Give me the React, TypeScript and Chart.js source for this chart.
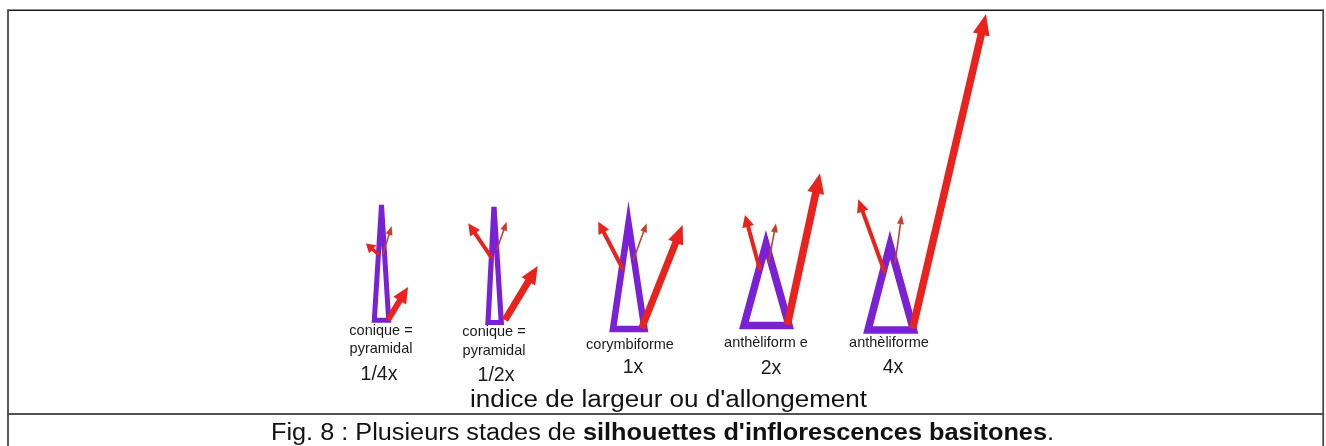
import React, { useEffect, useRef } from "react";
import { Chart, registerables } from "chart.js";

Chart.register(...registerables);

// ---- data (diagram coordinates: x = px from left, y = px from top) ----
const stages = ["1/4x", "1/2x", "1x", "2x", "4x"];
const stageNames = [
  ["conique =", "pyramidal"],
  ["conique =", "pyramidal"],
  ["corymbiforme"],
  ["anthèliform e"],
  ["anthèliforme"],
];

// purple silhouettes (triangles): apex, base-left, base-right
const apexX = [381.5, 494, 628.5, 766, 890];
const apexY = [205, 207, 223, 244, 245];
const baseLeftX = [374.3, 488, 613, 744, 868];
const baseRightX = [388.7, 501.3, 644.5, 789, 913.5];
const baseY = [320.3, 322.5, 329, 325.5, 330];

// red arrows: lateral (left), thin (upper), main (right)
const sideTailX = [379, 491.7, 623.3, 760, 885];
const sideTailY = [255, 258, 270, 270, 273];
const sideTipX = [366, 468.3, 598.3, 745, 858.3];
const sideTipY = [243.5, 223.3, 221.7, 215, 199.3];

const thinTailX = [382.7, 496.7, 633.3, 768.3, 895];
const thinTailY = [255, 250, 260, 263.3, 263.3];
const thinTipX = [391.7, 506.7, 646.7, 776, 901.7];
const thinTipY = [226, 221.7, 223.3, 223.3, 215];

const mainTailX = [388, 505, 641.7, 787.3, 912.7];
const mainTailY = [320, 320, 328.3, 325, 328.3];
const mainTipX = [408, 537.7, 682.7, 820, 986];
const mainTipY = [287, 266, 225, 173.3, 14];

const axisTitle = "indice de largeur ou d'allongement";
const captionParts = [
  { text: "Fig. 8 : Plusieurs stades de ", bold: false },
  { text: "silhouettes d'inflorescences basitones", bold: true },
  { text: ".", bold: false },
];

// ---- layout / styles ----
const PURPLE = "#7a21d6";
const RED = "#e8221c";
const THIN_RED = "#c9402a";
const FONT = '"Liberation Sans", Arial, Helvetica, sans-serif';
const nameX = [381, 494, 630, 766, 889];
const nameBaselines = [
  [335, 353],
  [335.5, 355],
  [348.5],
  [346.7],
  [346.7],
];
const ratioX = [379, 496, 633, 771, 893];
const ratioBaseline = [380, 380.7, 373.3, 374, 372.7];
const triStroke = [5, 5.2, 6.5, 7.5, 7.5];

type ArrowStyle = { shaft: number; headLen: number; headW: number; color: string };
const sideStyle: ArrowStyle[] = [
  { shaft: 3.5, headLen: 9, headW: 11, color: RED },
  { shaft: 4, headLen: 12, headW: 12, color: RED },
  { shaft: 4, headLen: 12, headW: 12, color: RED },
  { shaft: 4, headLen: 12, headW: 12, color: RED },
  { shaft: 4, headLen: 13, headW: 12, color: RED },
];
const thinStyle: ArrowStyle = { shaft: 1.6, headLen: 9, headW: 7, color: THIN_RED };
const mainStyle: ArrowStyle[] = [
  { shaft: 6, headLen: 16, headW: 15, color: RED },
  { shaft: 7, headLen: 18, headW: 16, color: RED },
  { shaft: 7, headLen: 19, headW: 16, color: RED },
  { shaft: 7.5, headLen: 20, headW: 17, color: RED },
  { shaft: 7.5, headLen: 21, headW: 17, color: RED },
];

function buildDatasets() {
  const ds: any[] = [];
  stages.forEach((_, i) => {
    const midX = (baseLeftX[i] + baseRightX[i]) / 2;
    ds.push({
      label: "silhouette " + stages[i],
      data: [
        { x: midX, y: baseY[i] },
        { x: baseRightX[i], y: baseY[i] },
        { x: apexX[i], y: apexY[i] },
        { x: baseLeftX[i], y: baseY[i] },
        { x: midX, y: baseY[i] },
      ],
      showLine: true,
      borderColor: PURPLE,
      backgroundColor: PURPLE,
      borderWidth: triStroke[i],
      borderJoinStyle: "miter",
      borderCapStyle: "butt",
      pointRadius: 0,
      tension: 0,
      fill: false,
    });
  });
  stages.forEach((_, i) => {
    ds.push({
      label: "side " + stages[i],
      data: [
        { x: sideTailX[i], y: sideTailY[i] },
        { x: sideTipX[i], y: sideTipY[i] },
      ],
      showLine: false,
      pointRadius: 0,
      arrow: sideStyle[i],
    });
    ds.push({
      label: "thin " + stages[i],
      data: [
        { x: thinTailX[i], y: thinTailY[i] },
        { x: thinTipX[i], y: thinTipY[i] },
      ],
      showLine: false,
      pointRadius: 0,
      arrow: thinStyle,
    });
    ds.push({
      label: "main " + stages[i],
      data: [
        { x: mainTailX[i], y: mainTailY[i] },
        { x: mainTipX[i], y: mainTipY[i] },
      ],
      showLine: false,
      pointRadius: 0,
      arrow: mainStyle[i],
    });
  });
  return ds;
}

const arrowPlugin = {
  id: "arrows",
  afterDatasetsDraw(chart: any) {
    const ctx = chart.ctx;
    chart.data.datasets.forEach((d: any, di: number) => {
      if (!d.arrow) return;
      const meta = chart.getDatasetMeta(di);
      const [a, b] = meta.data;
      if (!a || !b) return;
      const st: ArrowStyle = d.arrow;
      const dx = b.x - a.x;
      const dy = b.y - a.y;
      const len = Math.hypot(dx, dy);
      const ux = dx / len;
      const uy = dy / len;
      const nx = -uy;
      const ny = ux;
      const bx = b.x - ux * st.headLen;
      const by = b.y - uy * st.headLen;
      ctx.save();
      ctx.strokeStyle = st.color;
      ctx.fillStyle = st.color;
      ctx.lineWidth = st.shaft;
      ctx.lineCap = "butt";
      ctx.beginPath();
      ctx.moveTo(a.x, a.y);
      ctx.lineTo(bx + ux * 1, by + uy * 1);
      ctx.stroke();
      ctx.beginPath();
      ctx.moveTo(b.x, b.y);
      ctx.lineTo(bx + (nx * st.headW) / 2, by + (ny * st.headW) / 2);
      ctx.lineTo(bx - (nx * st.headW) / 2, by - (ny * st.headW) / 2);
      ctx.closePath();
      ctx.fill();
      ctx.restore();
    });
  },
};

function drawStretched(
  ctx: CanvasRenderingContext2D,
  parts: { text: string; font: string }[],
  cx: number,
  baseline: number,
  targetWidth: number
) {
  const widths = parts.map((p) => {
    ctx.font = p.font;
    return ctx.measureText(p.text).width;
  });
  const total = widths.reduce((s, w) => s + w, 0);
  const s = targetWidth / total;
  ctx.save();
  ctx.translate(cx - targetWidth / 2, baseline);
  ctx.scale(s, 1);
  ctx.textAlign = "left";
  ctx.textBaseline = "alphabetic";
  let x = 0;
  parts.forEach((p, i) => {
    ctx.font = p.font;
    ctx.fillText(p.text, x, 0);
    x += widths[i];
  });
  ctx.restore();
}

const decorPlugin = {
  id: "decor",
  beforeDraw(chart: any) {
    const ctx = chart.ctx;
    ctx.save();
    ctx.fillStyle = "#ffffff";
    ctx.fillRect(0, 0, chart.width, chart.height);
    ctx.restore();
  },
  afterDraw(chart: any) {
    const ctx: CanvasRenderingContext2D = chart.ctx;
    ctx.save();
    // frame
    ctx.strokeStyle = "#1a1a1a";
    ctx.lineWidth = 1.5;
    ctx.beginPath();
    ctx.moveTo(7.5, 10.3);
    ctx.lineTo(1323.5, 10.3);
    ctx.moveTo(7.5, 414);
    ctx.lineTo(1323.5, 414);
    ctx.stroke();
    ctx.strokeStyle = "#4a4a4a";
    ctx.lineWidth = 1.8;
    ctx.beginPath();
    ctx.moveTo(8, 9.5);
    ctx.lineTo(8, 446);
    ctx.moveTo(1323.2, 9.5);
    ctx.lineTo(1323.2, 446);
    ctx.stroke();

    ctx.fillStyle = "#1a1a1a";
    ctx.textAlign = "center";
    ctx.textBaseline = "alphabetic";
    stages.forEach((st, i) => {
      ctx.font = "14.5px " + FONT;
      stageNames[i].forEach((line, li) => {
        ctx.fillText(line, nameX[i], nameBaselines[i][li]);
      });
      ctx.font = "19.5px " + FONT;
      ctx.fillText(st, ratioX[i], ratioBaseline[i]);
    });

    ctx.fillStyle = "#111111";
    drawStretched(ctx, [{ text: axisTitle, font: "23px " + FONT }], 668.5, 406.5, 397);
    drawStretched(
      ctx,
      captionParts.map((p) => ({ text: p.text, font: (p.bold ? "bold " : "") + "23px " + FONT })),
      662.5,
      440,
      783
    );
    ctx.restore();
  },
};

export default function App() {
  const ref = useRef<HTMLCanvasElement | null>(null);
  useEffect(() => {
    document.body.style.margin = "0";
    if (!ref.current) return;
    const chart = new Chart(ref.current, {
      type: "scatter",
      data: { datasets: buildDatasets() },
      options: {
        animation: false,
        responsive: true,
        maintainAspectRatio: false,
        layout: { padding: 0 },
        plugins: {
          legend: { display: false },
          tooltip: { enabled: false },
          title: { display: false },
        },
        events: [],
        scales: {
          x: { type: "linear", min: 0, max: 1326, display: false },
          y: { type: "linear", min: 0, max: 446, reverse: true, display: false },
        },
      },
      plugins: [decorPlugin, arrowPlugin],
    } as any);
    return () => chart.destroy();
  }, []);
  return (
    <div style={{ position: "relative", width: 1326, height: 446 }}>
      <canvas ref={ref} />
    </div>
  );
}
